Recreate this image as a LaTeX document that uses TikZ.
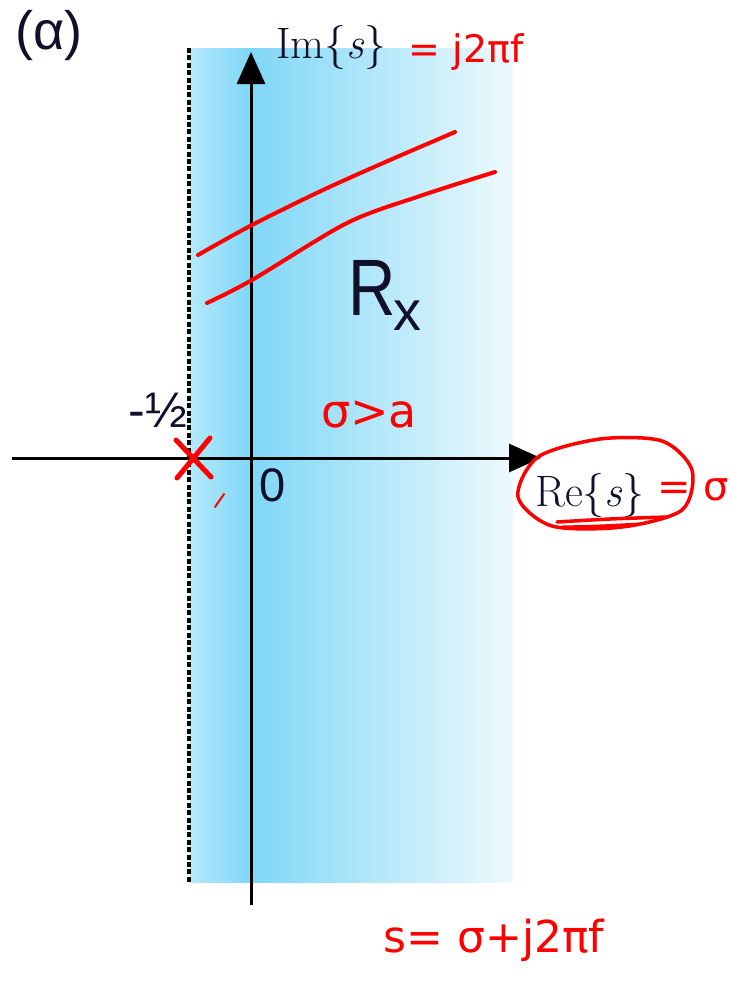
\documentclass[tikz,border=0pt]{standalone}
\usepackage{fontspec}
\newfontfamily\arialf{Liberation Sans}
\newfontfamily\handf{DejaVu Sans}
\usetikzlibrary{arrows.meta}
\definecolor{stripL}{HTML}{B4E9FC}
\definecolor{stripM}{HTML}{7FD7F7}
\definecolor{stripR}{HTML}{EEF9FD}
\definecolor{inkdark}{HTML}{10102A}
\begin{document}
\begin{tikzpicture}[x=1pt,y=-1pt,
  axis/.style={line width=3pt,-{Triangle[length=32pt,width=28pt]}},
  redink/.style={red,line width=4pt,line cap=round,line join=round},
  redtext/.style={text=red,inner sep=0pt,font=\handf\fontsize{#1}{#1}\selectfont},
  blacktext/.style={text=inkdark,inner sep=0pt}]
\useasboundingbox (0,0) rectangle (729,988);
% shaded region of convergence
\shade[left color=stripL,right color=stripM] (190,48) rectangle (251,882);
\shade[left color=stripM,right color=stripR] (251,48) rectangle (513,882);
% dashed boundary
\foreach \k in {0,...,112} {
  \fill[black] (187,{48+7.4*\k}) rectangle (190.5,{min(48+7.4*\k+5,882)});
}
% axes
\coordinate (xstart) at (12,458);
\coordinate (xend) at (541,458);
\coordinate (ystart) at (251,905);
\coordinate (yend) at (251,52);
\draw[axis] (xstart) -- (xend);
\draw[axis] (ystart) -- (yend);
% printed labels
\node[blacktext,anchor=center,font=\arialf\fontsize{54}{54}\selectfont] (alpha) at (49,36) {(α)};
\node[blacktext,anchor=base west,font=\rmfamily\fontsize{44}{44}\selectfont] (imlab) at (276,58) {Im\{\itshape s\upshape\}};
\node[blacktext,anchor=base west,font=\rmfamily\fontsize{44}{44}\selectfont] (relab) at (535,506) {Re\{\itshape s\upshape\}};
\node[blacktext,anchor=base east,font=\arialf\fontsize{50}{50}\selectfont] (half) at (187,427) {-½};
\node[blacktext,anchor=base west,font=\arialf\fontsize{47}{47}\selectfont] (zero) at (259,501) {0};
\node[blacktext,anchor=base west,xscale=0.82,font=\arialf\fontsize{80}{80}\selectfont] (R) at (348,315) {R};
\node[blacktext,anchor=base west,font=\arialf\fontsize{56}{56}\selectfont] (xsub) at (393,330) {x};
% handwritten annotations
\node[redtext=38,anchor=center] (imeq) at (466,52) {= j2πf};
\node[redtext=46,anchor=center] (sigmaa) at (369,414) {σ>a};
\node[redtext=40,anchor=east] (reeq) at (729,490) {= σ};
\node[redtext=44,anchor=center] (sdef) at (494,940) {s= σ+j2πf};
% pole cross
\coordinate (p1) at (176,440); \coordinate (p2) at (211,477);
\coordinate (p3) at (210,438); \coordinate (p4) at (177,478);
\draw[redink,line width=5pt] (p1) -- (p2);
\draw[redink,line width=5pt] (p3) -- (p4);
% small tick
\coordinate (t1) at (215,507); \coordinate (t2) at (224,494);
\draw[redink,line width=2pt] (t1) -- (t2);
% slanted strokes
\draw[redink] plot[smooth] coordinates {(198,255) (252,225) (323,190) (390,160) (455,132)};
\draw[redink] plot[smooth] coordinates {(207,303) (252,280) (347,223) (420,196) (495,172)};
% circle around Re{s}
\draw[redink,line width=3.5pt] plot[smooth cycle] coordinates {(518,497) (538,457) (600,439) (662,441) (692,470) (682,510) (622,527) (552,526)};
% underline
\draw[redink,line width=3.5pt] plot[smooth] coordinates {(557,522) (610,519) (667,517)};
\draw[redink,line width=3pt] plot[smooth] coordinates {(562,527) (600,526) (640,524)};
\end{tikzpicture}
\end{document}
